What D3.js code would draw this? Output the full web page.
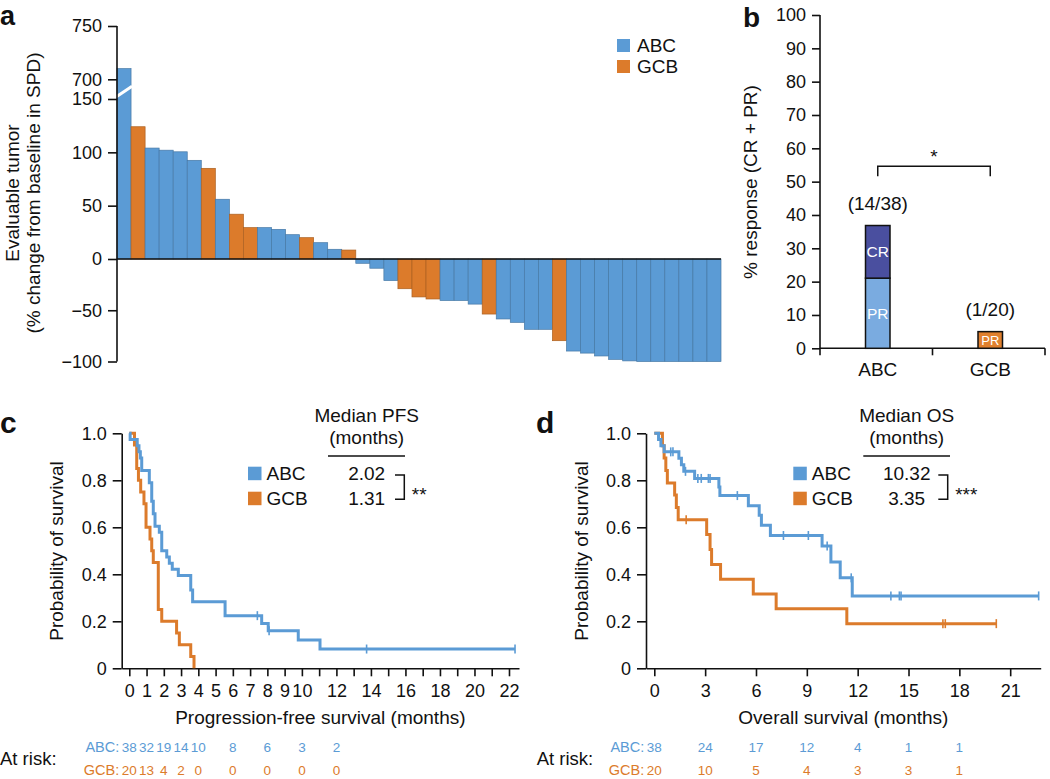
<!DOCTYPE html>
<html><head><meta charset="utf-8">
<script src="https://cdn.jsdelivr.net/npm/d3@7"></script>
<style>
body{margin:0;background:#fff}
svg{display:block}
text{font-family:"Liberation Sans",Arial,Helvetica,sans-serif;fill:#111}
</style>
</head><body>
<svg id="chart" width="1050" height="779"></svg>
<script>
// ---------------- DATA ----------------
// Panel a: waterfall (% change from baseline in SPD)
const waterfallValues = [710,124,104,102,100.5,92.5,85,56,42,29.4,29.4,27.8,22.8,20,15.3,9.1,8.4,
  -4.2,-9,-21,-29,-37,-39,-40.5,-40.5,-44,-53.7,-58.5,-61.8,-68.6,-68.6,-79.7,-89.8,-91.8,-94.6,-97.9,-99.4,
  -100,-100,-100,-100,-100,-100];
const waterfallSubtype = ["ABC","GCB","ABC","ABC","ABC","ABC","GCB","ABC","GCB","GCB","ABC","ABC","ABC","GCB","ABC","ABC","GCB",
  "ABC","ABC","ABC","GCB","GCB","GCB","ABC","ABC","ABC","GCB","ABC","ABC","ABC","ABC","GCB","ABC","ABC","ABC","ABC","ABC",
  "ABC","ABC","ABC","ABC","ABC","ABC"];
const waterfallTicksLow = [-100,-50,0,50,100,150];
const waterfallTicksHigh = [700,750];

// Panel b: response rates
const respCategories = ["ABC","GCB"];
const respPR = [21.05, 5.0];
const respCR = [15.79, 0];
const respFractions = ["(14/38)","(1/20)"];
const respTicks = [0,10,20,30,40,50,60,70,80,90,100];

// Panel c: PFS Kaplan–Meier
const pfsAbcTime = [0,0.05,0.46,0.56,0.64,0.72,1.16,1.30,1.39,1.49,1.74,1.88,2.17,2.32,2.49,2.84,3.56,3.67,5.55,7.67,8.05,9.79,11.05,22.35];
const pfsAbcSurv = [1,0.974,0.947,0.921,0.895,0.842,0.79,0.711,0.658,0.605,0.579,0.5,0.474,0.447,0.421,0.395,0.333,0.283,0.224,0.191,0.16,0.12,0.082,0.082];
const pfsAbcCensor = [7.42,8.1,13.75,22.35];
const pfsGcbTime = [0,0.3,0.43,0.53,0.66,0.85,0.97,1.2,1.3,1.39,1.68,1.88,2.74,2.9,3.56,3.75];
const pfsGcbSurv = [1,0.95,0.85,0.8,0.75,0.7,0.6,0.55,0.5,0.45,0.25,0.2,0.15,0.1,0.05,0];
const pfsGcbCensor = [];
const pfsRiskTimes = [0,1,2,3,4,6,8,10,12];
const pfsRiskAbc = [38,32,19,14,10,8,6,3,2];
const pfsRiskGcb = [20,13,4,2,0,0,0,0,0];
const pfsMedians = ["2.02","1.31"];

// Panel d: OS Kaplan–Meier
const osAbcTime = [0,0.25,0.39,0.58,1.45,1.6,1.74,2.38,3.81,3.87,5.55,6.19,6.32,6.85,9.9,10.42,10.97,11.68,22.68];
const osAbcSurv = [1,0.974,0.947,0.921,0.894,0.866,0.838,0.808,0.772,0.735,0.692,0.651,0.609,0.565,0.52,0.452,0.385,0.308,0.308];
const osAbcCensor = [0.97,1.1,1.84,2.57,2.77,3.19,3.29,4.9,7.62,9.09,10.2,11.62,13.96,14.46,14.56,22.68];
const osGcbTime = [0,0.48,0.58,0.68,0.77,1.2,1.3,1.41,3.09,3.29,3.38,3.91,5.84,7.19,11.36,20.18];
const osGcbSurv = [1,0.947,0.895,0.842,0.789,0.737,0.684,0.632,0.569,0.506,0.442,0.379,0.316,0.253,0.19,0.19];
const osGcbCensor = [1.88,17.03,17.17,20.18];
const osRiskTimes = [0,3,6,9,12,15,18];
const osRiskAbc = [38,24,17,12,4,1,1];
const osRiskGcb = [20,10,5,4,3,3,1];
const osMedians = ["10.32","3.35"];

const survTicks = [0,0.2,0.4,0.6,0.8,1.0];

// ---------------- STYLE ----------------
const BLUE = "#5b9bd5", ORANGE = "#dc7b2b";
const PR_BLUE = "#7aabe0", CR_BLUE = "#4a4f9f", GCB_PR = "#e0802e";
const colorOf = s => s === "ABC" ? BLUE : ORANGE;
const TICK_FS = 18, LABEL_FS = 19, AXIS_W = 1.6, RISK_FS = 13.5;

const svg = d3.select("#chart");

function styleAxis(g){
  g.selectAll(".domain").attr("stroke","#111").attr("stroke-width",AXIS_W);
  g.selectAll(".tick line").attr("stroke","#111").attr("stroke-width",AXIS_W);
  g.selectAll(".tick text").attr("font-size",TICK_FS).attr("fill","#111")
    .attr("font-family",'"Liberation Sans",Arial,sans-serif');
}
const minusFmt = d => d < 0 ? "\u2212" + Math.abs(d) : String(d);

// ---------------- PANEL A ----------------
(function(){
  const g = svg.append("g");
  const xA = d3.scaleBand().domain(d3.range(waterfallValues.length)).range([117,721]).padding(0);
  const yA = d3.scaleLinear().domain([-100,0,150]).range([361.5,259,99]);
  const yAUp = d3.scaleLinear().domain([700,750]).range([79.3,26]);
  const yv = v => v > 150 ? yAUp(v) : yA(v);

  g.selectAll("rect.bar").data(waterfallValues).join("rect")
    .attr("class","bar")
    .attr("x",(d,i)=>xA(i))
    .attr("width",xA.bandwidth())
    .attr("y",d=>Math.min(yv(d),yA(0)))
    .attr("height",d=>Math.abs(yA(0)-yv(d)))
    .attr("fill",(d,i)=>colorOf(waterfallSubtype[i]))
    .attr("stroke",(d,i)=>d3.color(colorOf(waterfallSubtype[i])).darker(0.7))
    .attr("stroke-width",0.7);

  // axis break slash across first bar
  const bx = xA(0), bw = xA.bandwidth();
  g.append("line").attr("x1",bx-1).attr("x2",bx+bw+1)
    .attr("y1",yA(150)-2).attr("y2",yAUp(700)+7)
    .attr("stroke","#fff").attr("stroke-width",3);

  // zero line
  g.append("line").attr("x1",117).attr("x2",721).attr("y1",yA(0)).attr("y2",yA(0))
    .attr("stroke","#111").attr("stroke-width",AXIS_W);

  // y axes
  const axLow = g.append("g").attr("transform","translate(117,0)")
    .call(d3.axisLeft(yA).tickValues(waterfallTicksLow).tickFormat(minusFmt).tickSize(9).tickPadding(6));
  const axHigh = g.append("g").attr("transform","translate(117,0)")
    .call(d3.axisLeft(yAUp).tickValues(waterfallTicksHigh).tickSize(9).tickPadding(6));
  [axLow,axHigh].forEach(a=>{a.select(".domain").remove(); styleAxis(a);});
  g.append("line").attr("x1",117).attr("x2",117).attr("y1",yAUp(750)).attr("y2",yA(-100))
    .attr("stroke","#111").attr("stroke-width",AXIS_W);

  // y label
  g.append("text").attr("transform","translate(18.5,193) rotate(-90)").attr("text-anchor","middle")
    .attr("font-size",LABEL_FS).text("Evaluable tumor");
  g.append("text").attr("transform","translate(39.5,193) rotate(-90)").attr("text-anchor","middle")
    .attr("font-size",LABEL_FS).text("(% change from baseline in SPD)");

  // legend
  respCategories.forEach((c,i)=>{
    g.append("rect").attr("x",617).attr("y",39+i*21).attr("width",13).attr("height",13).attr("fill",colorOf(c));
    g.append("text").attr("x",637).attr("y",52+i*21).attr("font-size",LABEL_FS).text(c);
  });

  g.append("text").attr("x",0).attr("y",25).attr("font-size",27).attr("font-weight","bold").text("a");
})();

// ---------------- PANEL B ----------------
(function(){
  const g = svg.append("g");
  const xB = d3.scaleBand().domain(respCategories).range([820,1045]);
  const yB = d3.scaleLinear().domain([0,100]).range([348.3,15]);
  const bw = 24.5;
  const cx = c => xB(c) + xB.bandwidth()/2 + 1.5;

  // axes
  const ay = g.append("g").attr("transform","translate(820,0)")
    .call(d3.axisLeft(yB).tickValues(respTicks).tickSize(8).tickPadding(6));
  styleAxis(ay);
  ay.select(".domain").attr("d","M0,"+yB(100)+"V"+yB(0));
  g.append("line").attr("x1",820).attr("x2",1045).attr("y1",yB(0)).attr("y2",yB(0))
    .attr("stroke","#111").attr("stroke-width",AXIS_W);
  const bounds = [xB.range()[0]].concat(respCategories.map(c=>xB(c)+xB.bandwidth()));
  bounds.forEach(b=>{
    g.append("line").attr("x1",b).attr("x2",b).attr("y1",yB(0)).attr("y2",yB(0)+7)
      .attr("stroke","#111").attr("stroke-width",AXIS_W);
  });
  respCategories.forEach(c=>{
    g.append("text").attr("x",cx(c)).attr("y",376).attr("text-anchor","middle")
      .attr("font-size",LABEL_FS).text(c);
  });

  // bars
  respCategories.forEach((c,i)=>{
    const prFill = c === "ABC" ? PR_BLUE : GCB_PR;
    g.append("rect").attr("x",cx(c)-bw/2).attr("width",bw)
      .attr("y",yB(respPR[i])).attr("height",yB(0)-yB(respPR[i]))
      .attr("fill",prFill).attr("stroke","#111").attr("stroke-width",1.5);
    const fsPR = c === "ABC" ? 15.5 : 13;
    g.append("text").attr("x",cx(c)).attr("y",yB(respPR[i]/2)+fsPR*0.36)
      .attr("text-anchor","middle").attr("font-size",fsPR).style("fill","#fff").text("PR");
    if (respCR[i] > 0){
      const top = respPR[i]+respCR[i];
      g.append("rect").attr("x",cx(c)-bw/2).attr("width",bw)
        .attr("y",yB(top)).attr("height",yB(respPR[i])-yB(top))
        .attr("fill",CR_BLUE).attr("stroke","#111").attr("stroke-width",1.5);
      g.append("text").attr("x",cx(c)).attr("y",yB(respPR[i]+respCR[i]/2)+15.5*0.36)
        .attr("text-anchor","middle").attr("font-size",15.5).style("fill","#fff").text("CR");
    }
    g.append("text").attr("x",cx(c)).attr("y",yB(respPR[i]+respCR[i])-16)
      .attr("text-anchor","middle").attr("font-size",LABEL_FS).text(respFractions[i]);
  });

  // significance bracket
  const bY = yB(54.6), x1 = cx("ABC"), x2 = cx("GCB");
  g.append("path").attr("d",`M${x1},${bY+10}V${bY}H${x2}V${bY+10}`)
    .attr("fill","none").attr("stroke","#111").attr("stroke-width",1.5);
  g.append("text").attr("x",(x1+x2)/2).attr("y",bY-3).attr("text-anchor","middle")
    .attr("font-size",LABEL_FS).text("*");

  g.append("text").attr("transform","translate(757,182) rotate(-90)").attr("text-anchor","middle")
    .attr("font-size",LABEL_FS).text("% response (CR + PR)");
  g.append("text").attr("x",743).attr("y",27).attr("font-size",28).attr("font-weight","bold").text("b");
})();

// ---------------- KM PANELS ----------------
function stepAt(times, surv, t){
  let s = surv[0];
  for (let i=0;i<times.length;i++) if (times[i] <= t) s = surv[i];
  return s;
}

function drawKM(o){
  const g = svg.append("g");
  const x = d3.scaleLinear().domain(o.xDomain).range(o.xRange);
  const y = d3.scaleLinear().domain([0,1]).range([668.3,433.3]);
  const x0 = o.xRange[0];

  // axes
  const ax = g.append("g").attr("transform",`translate(0,${y(0)})`)
    .call(d3.axisBottom(x).tickValues(o.xTicks).tickFormat(o.xFmt).tickSize(8).tickPadding(8).tickSizeOuter(0));
  styleAxis(ax);
  const ay = g.append("g").attr("transform",`translate(${x0},0)`)
    .call(d3.axisLeft(y).tickValues(survTicks).tickFormat(d=>d===0?"0":d3.format(".1f")(d)).tickSize(9).tickPadding(6).tickSizeOuter(0));
  styleAxis(ay);

  // curves
  const line = d3.line().curve(d3.curveStepAfter);
  const series = [
    {t:o.abcTime, s:o.abcSurv, c:o.abcCensor, col:BLUE},
    {t:o.gcbTime, s:o.gcbSurv, c:o.gcbCensor, col:ORANGE}
  ];
  series.slice().reverse().forEach(sr=>{
    g.append("path").attr("d",line(sr.t.map((t,i)=>[x(t),y(sr.s[i])])))
      .attr("fill","none").attr("stroke",sr.col).attr("stroke-width",3);
    sr.c.forEach(ct=>{
      const yy = y(stepAt(sr.t,sr.s,ct));
      g.append("line").attr("x1",x(ct)).attr("x2",x(ct)).attr("y1",yy-4.5).attr("y2",yy+4.5)
        .attr("stroke",sr.col).attr("stroke-width",1.6);
    });
  });

  // labels
  g.append("text").attr("x",(o.xRange[0]+o.xRange[1])/2 + o.xLabelShift).attr("y",724).attr("text-anchor","middle")
    .attr("font-size",LABEL_FS).text(o.xLabel);
  g.append("text").attr("transform",`translate(${o.yLabelX},551) rotate(-90)`).attr("text-anchor","middle")
    .attr("font-size",LABEL_FS).text("Probability of survival");
  g.append("text").attr("x",o.letterX).attr("y",433).attr("font-size",30).attr("font-weight","bold").text(o.letter);

  // header + legend
  const hc = o.headerX;
  g.append("text").attr("x",hc).attr("y",421.5).attr("text-anchor","middle").attr("font-size",LABEL_FS).text(o.header);
  g.append("text").attr("x",hc).attr("y",444).attr("text-anchor","middle").attr("font-size",LABEL_FS).text("(months)");
  g.append("line").attr("x1",o.ulX[0]).attr("x2",o.ulX[1]).attr("y1",456).attr("y2",456)
    .attr("stroke","#111").attr("stroke-width",1.5);
  respCategories.forEach((c,i)=>{
    g.append("rect").attr("x",o.legX).attr("y",466.7+i*25).attr("width",13.5).attr("height",13.5).attr("fill",colorOf(c));
    g.append("text").attr("x",o.legX+18.5).attr("y",480+i*25).attr("font-size",LABEL_FS).text(c);
    g.append("text").attr("x",hc).attr("y",480+i*25).attr("text-anchor","middle").attr("font-size",LABEL_FS).text(o.medians[i]);
  });
  g.append("path").attr("d",`M${o.brX[0]},475H${o.brX[1]}V499.3H${o.brX[0]}`)
    .attr("fill","none").attr("stroke","#111").attr("stroke-width",1.5);
  g.append("text").attr("x",o.brX[1]+7.5).attr("y",501).attr("font-size",LABEL_FS).text(o.stars);

  // at risk
  g.append("text").attr("x",o.atRiskX).attr("y",765).attr("font-size",18.5).text("At risk:");
  const rows = [{lab:"ABC:",v:o.riskAbc,col:BLUE,y:752},{lab:"GCB:",v:o.riskGcb,col:ORANGE,y:774.5}];
  rows.forEach(r=>{
    g.append("text").attr("x",x(0)-10).attr("y",r.y).attr("text-anchor","end")
      .attr("font-size",14.5).style("fill",r.col).text(r.lab);
    r.v.forEach((n,i)=>{
      g.append("text").attr("x",x(o.riskTimes[i])).attr("y",r.y).attr("text-anchor","middle")
        .attr("font-size",RISK_FS).style("fill",r.col).text(n);
    });
  });
}

drawKM({
  xDomain:[-0.44,22.58], xRange:[121.7,519],
  xTicks:d3.range(0,23), xFmt:d=> (d<=10 || d%2===0) ? d : "",
  abcTime:pfsAbcTime, abcSurv:pfsAbcSurv, abcCensor:pfsAbcCensor,
  gcbTime:pfsGcbTime, gcbSurv:pfsGcbSurv, gcbCensor:pfsGcbCensor,
  riskTimes:pfsRiskTimes, riskAbc:pfsRiskAbc, riskGcb:pfsRiskGcb,
  xLabel:"Progression-free survival (months)", xLabelShift:0, yLabelX:63,
  letter:"c", letterX:0, header:"Median PFS", headerX:366.7, ulX:[328,405],
  legX:248, medians:pfsMedians, brX:[395,404.3], stars:"**", atRiskX:0
});
drawKM({
  xDomain:[-0.49,22.8], xRange:[646,1040.7],
  xTicks:d3.range(0,22,3), xFmt:d=>d,
  abcTime:osAbcTime, abcSurv:osAbcSurv, abcCensor:osAbcCensor,
  gcbTime:osGcbTime, gcbSurv:osGcbSurv, gcbCensor:osGcbCensor,
  riskTimes:osRiskTimes, riskAbc:osRiskAbc, riskGcb:osRiskGcb,
  xLabel:"Overall survival (months)", xLabelShift:0, yLabelX:588,
  letter:"d", letterX:536, header:"Median OS", headerX:906.7, ulX:[863.3,950],
  legX:793.3, medians:osMedians, brX:[938.3,947.7], stars:"***", atRiskX:536.7
});
</script>
</body></html>
